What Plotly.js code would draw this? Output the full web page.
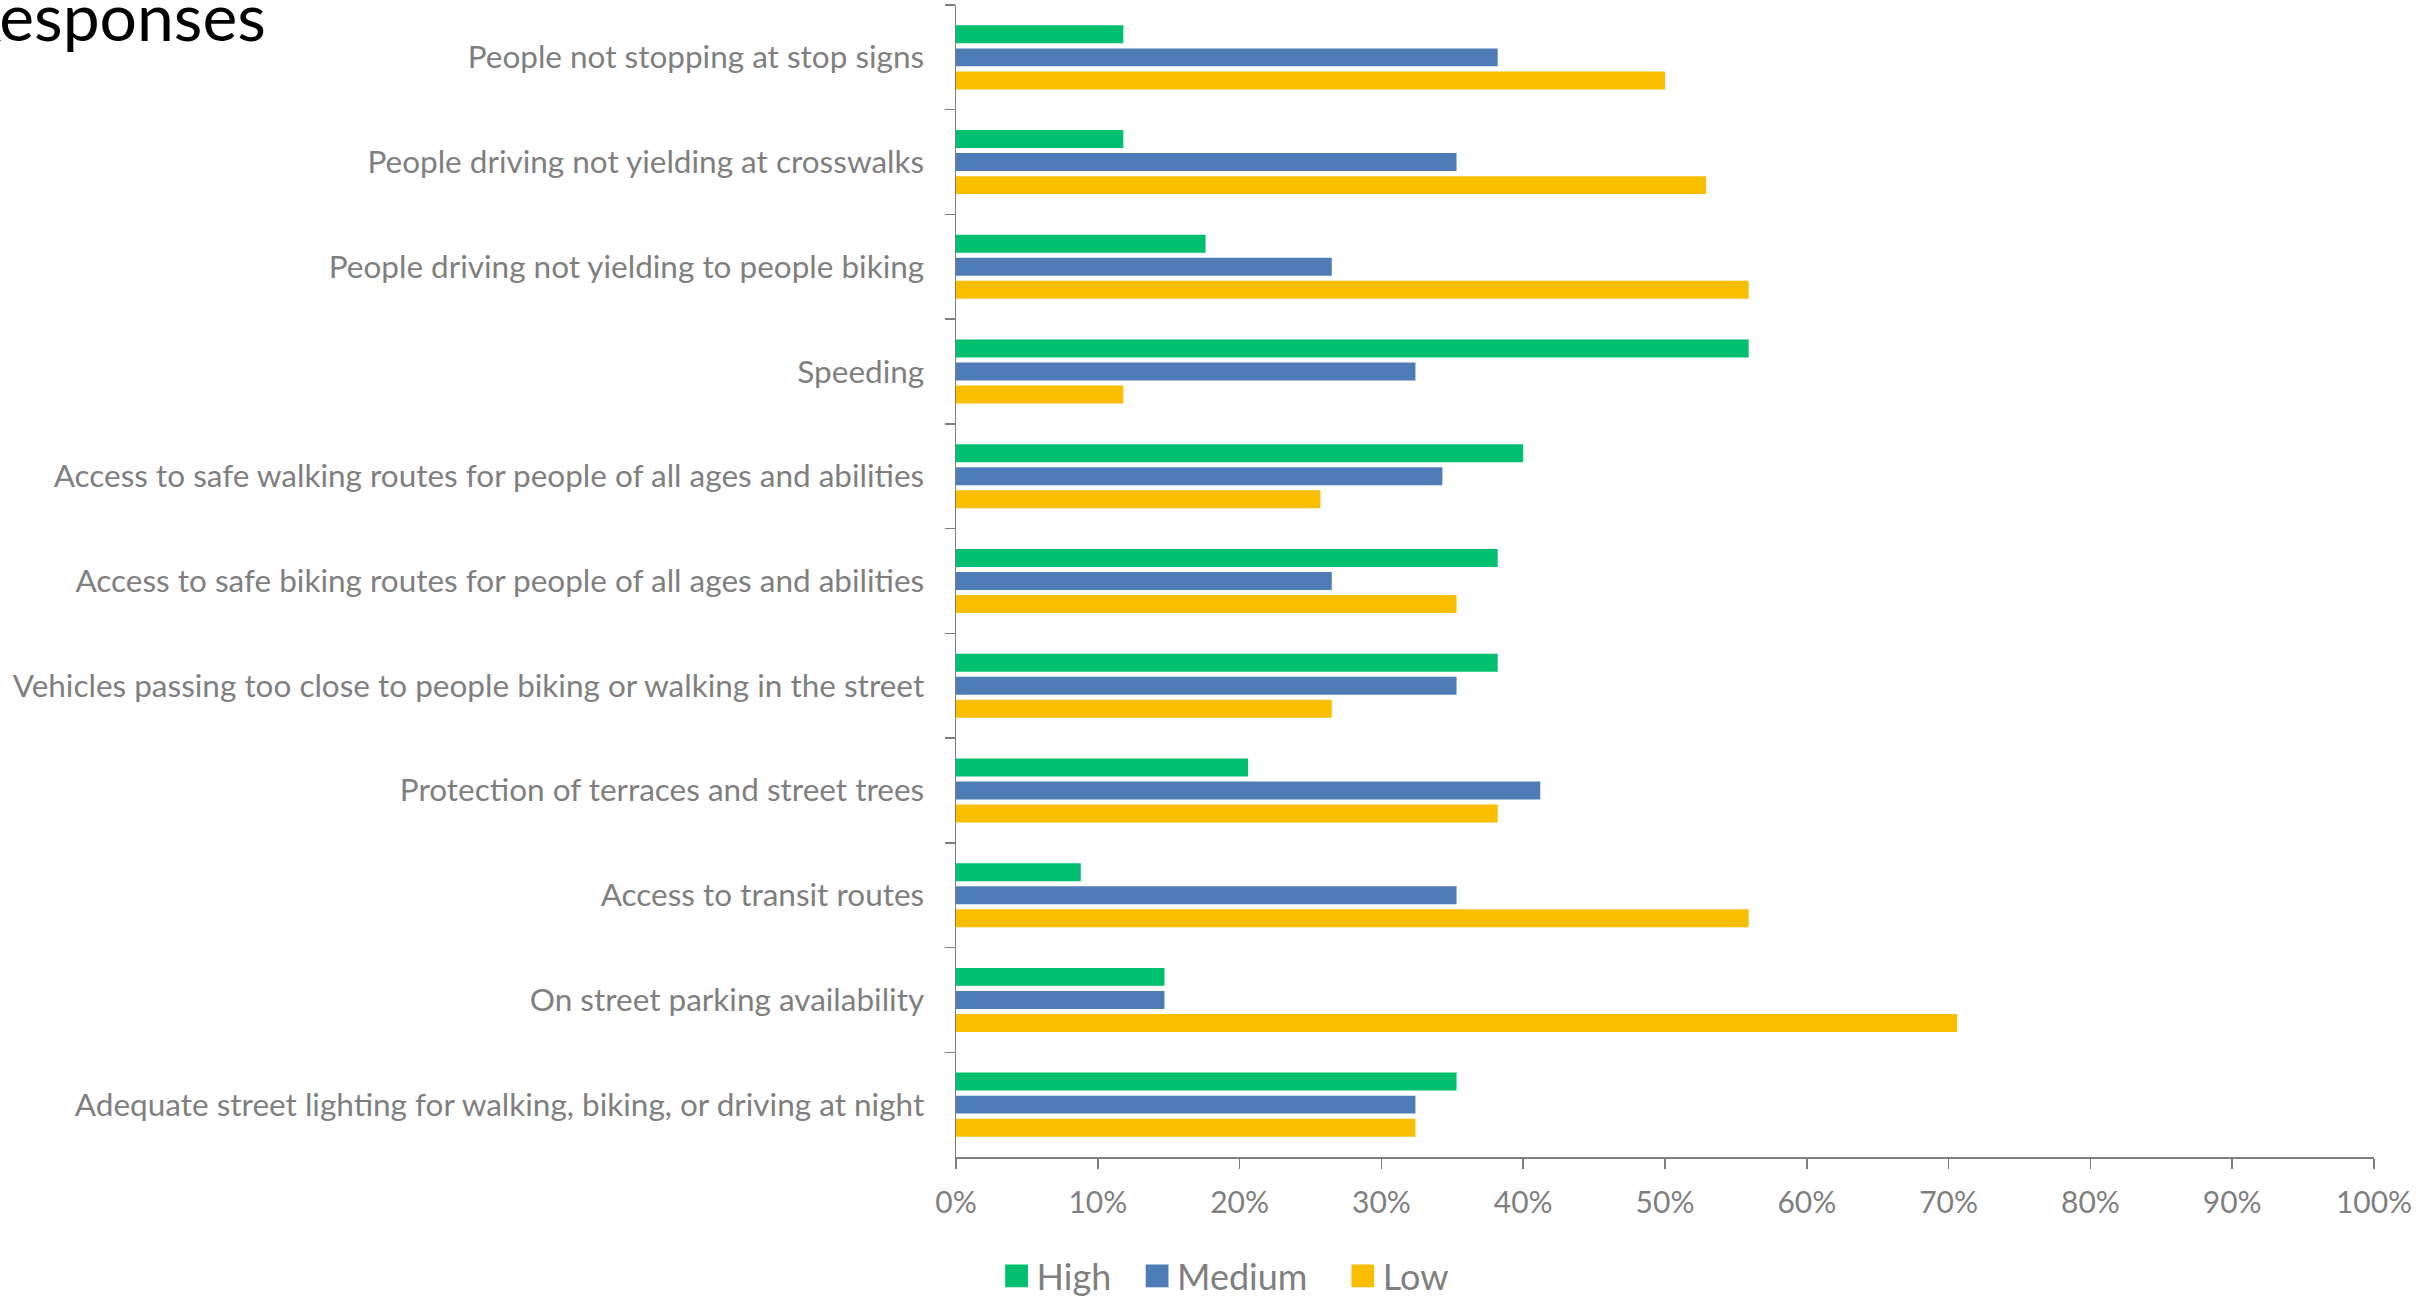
<!DOCTYPE html>
<html>
<head>
<meta charset="utf-8">
<script src="https://cdn.plot.ly/plotly-3.0.1.min.js"></script>
<style>
html, body { margin: 0; padding: 0; background: #ffffff; overflow: hidden; }
#chart { width: 2416px; height: 1298px; }
</style>
</head>
<body>
<div id="chart"></div>
<script>
const categories = [
  "People not stopping at stop signs",
  "People driving not yielding at crosswalks",
  "People driving not yielding to people biking",
  "Speeding",
  "Access to safe walking routes for people of all ages and abilities",
  "Access to safe biking routes for people of all ages and abilities",
  "Vehicles passing too close to people biking or walking in the street",
  "Protection of terraces and street trees",
  "Access to transit routes",
  "On street parking availability",
  "Adequate street lighting for walking, biking, or driving at night"
];
const highValues   = [11.8, 11.8, 17.6, 55.9, 40.0, 38.2, 38.2, 20.6, 8.8, 14.7, 35.3];
const mediumValues = [38.2, 35.3, 26.5, 32.4, 34.3, 26.5, 35.3, 41.2, 35.3, 14.7, 32.4];
const lowValues    = [50.0, 52.9, 55.9, 11.8, 25.7, 35.3, 26.5, 38.2, 55.9, 70.6, 32.4];
const seriesNames  = ["High", "Medium", "Low"];
const xTickValues  = [0, 10, 20, 30, 40, 50, 60, 70, 80, 90, 100];
const titleText    = "Responses";

const colors = ["#00BF6F", "#4F7CB7", "#F9BE00"];
const gray = "#7F7F7F";
const font = "Lato, 'Open Sans', sans-serif";

const seriesValues = [highValues, mediumValues, lowValues];
const legendIds = ["legend", "legend2", "legend3"];
const legendX = [0.0286, 0.1277, 0.2728];

const traces = seriesValues.map((vals, i) => ({
  type: "bar",
  orientation: "h",
  name: seriesNames[i],
  x: vals,
  y: categories,
  marker: { color: colors[i] },
  legend: legendIds[i],
  hoverinfo: "x+y+name"
}));

const legendBase = {
  orientation: "h",
  xref: "paper", yref: "paper",
  xanchor: "left", yanchor: "middle",
  y: -0.1033,
  font: { family: font, size: 36, color: gray },
  bgcolor: "rgba(0,0,0,0)",
  borderwidth: 0
};

const layout = {
  width: 2416,
  height: 1298,
  margin: { l: 956, r: 42, t: 5, b: 141, pad: 0, autoexpand: false },
  paper_bgcolor: "#ffffff",
  plot_bgcolor: "#ffffff",
  barmode: "group",
  bargap: 0.34,
  bargroupgap: 0.22,
  showlegend: true,
  legend:  Object.assign({}, legendBase, { x: legendX[0] }),
  legend2: Object.assign({}, legendBase, { x: legendX[1] }),
  legend3: Object.assign({}, legendBase, { x: legendX[2] }),
  xaxis: {
    range: [0, 100],
    tickvals: xTickValues,
    ticktext: xTickValues.map(v => v + "%"),
    showgrid: false,
    zeroline: false,
    showline: true,
    linecolor: gray,
    linewidth: 2,
    ticks: "outside",
    ticklen: 10,
    tickwidth: 1.5,
    tickcolor: gray,
    ticklabelstandoff: 8,
    ticklabeloverflow: "allow",
    tickfont: { family: font, size: 30, color: gray },
    fixedrange: true
  },
  yaxis: {
    type: "category",
    autorange: "reversed",
    showgrid: false,
    zeroline: false,
    showline: true,
    linecolor: gray,
    linewidth: 1.5,
    ticks: "outside",
    tickson: "boundaries",
    ticklen: 10,
    tickwidth: 1.5,
    tickcolor: gray,
    ticklabelstandoff: 24,
    tickfont: { family: font, size: 31.5, color: gray },
    fixedrange: true
  },
  annotations: [{
    text: titleText,
    xref: "paper", yref: "paper",
    x: -0.4853, y: 0.9905,
    xanchor: "right", yanchor: "middle",
    showarrow: false,
    font: { family: font, size: 66, color: "#000000" }
  }]
};

Plotly.newPlot("chart", traces, layout, { displayModeBar: false, staticPlot: true }).then(() => {
  document.querySelectorAll(".legendpoints path").forEach(p => {
    const t = p.getAttribute("transform") || "";
    p.setAttribute("transform", t + " scale(1.9)");
  });
});
</script>
</body>
</html>
